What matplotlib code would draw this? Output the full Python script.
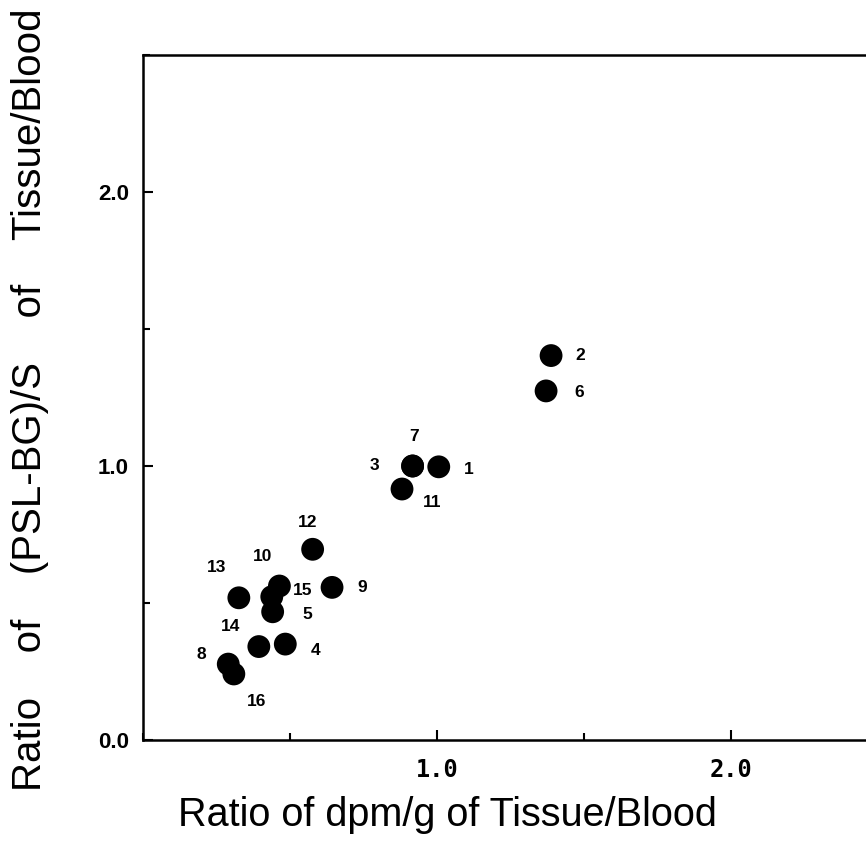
import matplotlib
matplotlib.use("Agg")
import matplotlib.pyplot as plt
from matplotlib.ticker import MultipleLocator

# sample numbers and their ratios
ids = ["2", "6", "7", "3", "1", "11", "12", "9", "13", "10", "15", "5", "14", "4", "8", "16"]
x_dpm = [1.388, 1.371, 0.917, 0.917, 1.006, 0.881, 0.577, 0.643, 0.326, 0.438, 0.464, 0.441, 0.394, 0.484, 0.290, 0.309]
y_psl = [1.403, 1.274, 1.000, 1.000, 0.997, 0.916, 0.696, 0.557, 0.519, 0.523, 0.562, 0.468, 0.341, 0.350, 0.277, 0.241]

# label offsets in pixels (dx right, dy up)
label_off = {
    "2": (29, 0), "6": (33, -2), "7": (1, 29), "3": (-38, 0), "1": (30, -3),
    "11": (30, -13), "12": (-5, 27), "9": (30, 0), "13": (-22, 30),
    "10": (-9, 40), "15": (23, -4), "5": (35, -3), "14": (-28, 20),
    "4": (30, -6), "8": (-27, 10), "16": (23, -28),
}

fig = plt.figure(figsize=(8.66, 8.43), dpi=100)
# axes runs past the right edge of the figure, like the cropped original
ax = fig.add_axes([143 / 866, 103 / 843, 735 / 866, 685 / 843])

ax.scatter(x_dpm, y_psl, s=270, c="black", edgecolors="none", zorder=3)
for name, xv, yv in zip(ids, x_dpm, y_psl):
    dx, dy = label_off[name]
    ax.annotate(name, (xv, yv), xytext=(dx, dy), textcoords="offset pixels",
                ha="center", va="center", fontsize=12.5, fontweight="bold",
                family="Liberation Sans")

ax.set_xlim(0, 2.5)
ax.set_ylim(0, 2.5)
ax.xaxis.set_minor_locator(MultipleLocator(0.5))
ax.yaxis.set_minor_locator(MultipleLocator(0.5))
ax.set_xticks([1.0, 2.0])
ax.set_xticklabels(["1.0", "2.0"], family="DejaVu Sans Mono", fontsize=17,
                   fontweight="bold")
ax.set_yticks([0.0, 1.0, 2.0])
ax.set_yticklabels(["0.0", "1.0", "2.0"], family="Liberation Sans", fontsize=16,
                   fontweight="bold")

ax.tick_params(which="major", direction="in", length=7.5, width=1.5)
ax.tick_params(which="minor", direction="in", length=5, width=1.5)
ax.tick_params(axis="x", which="major", pad=13)
ax.tick_params(axis="y", which="major", pad=10)
ax.tick_params(top=False, right=False, which="both")
for sp in ax.spines.values():
    sp.set_linewidth(1.8)

fig.text(447 / 866, 1 - 815 / 843, "Ratio of dpm/g of Tissue/Blood",
         family="Liberation Sans", fontsize=28.5, ha="center", va="center")
fig.text(30 / 866, 1 - 400 / 843, "Ratio    of    (PSL-BG)/S    of    Tissue/Blood",
         family="Liberation Sans", fontsize=29, ha="center", va="center",
         rotation=90)

fig.savefig("out.png", dpi=100)
